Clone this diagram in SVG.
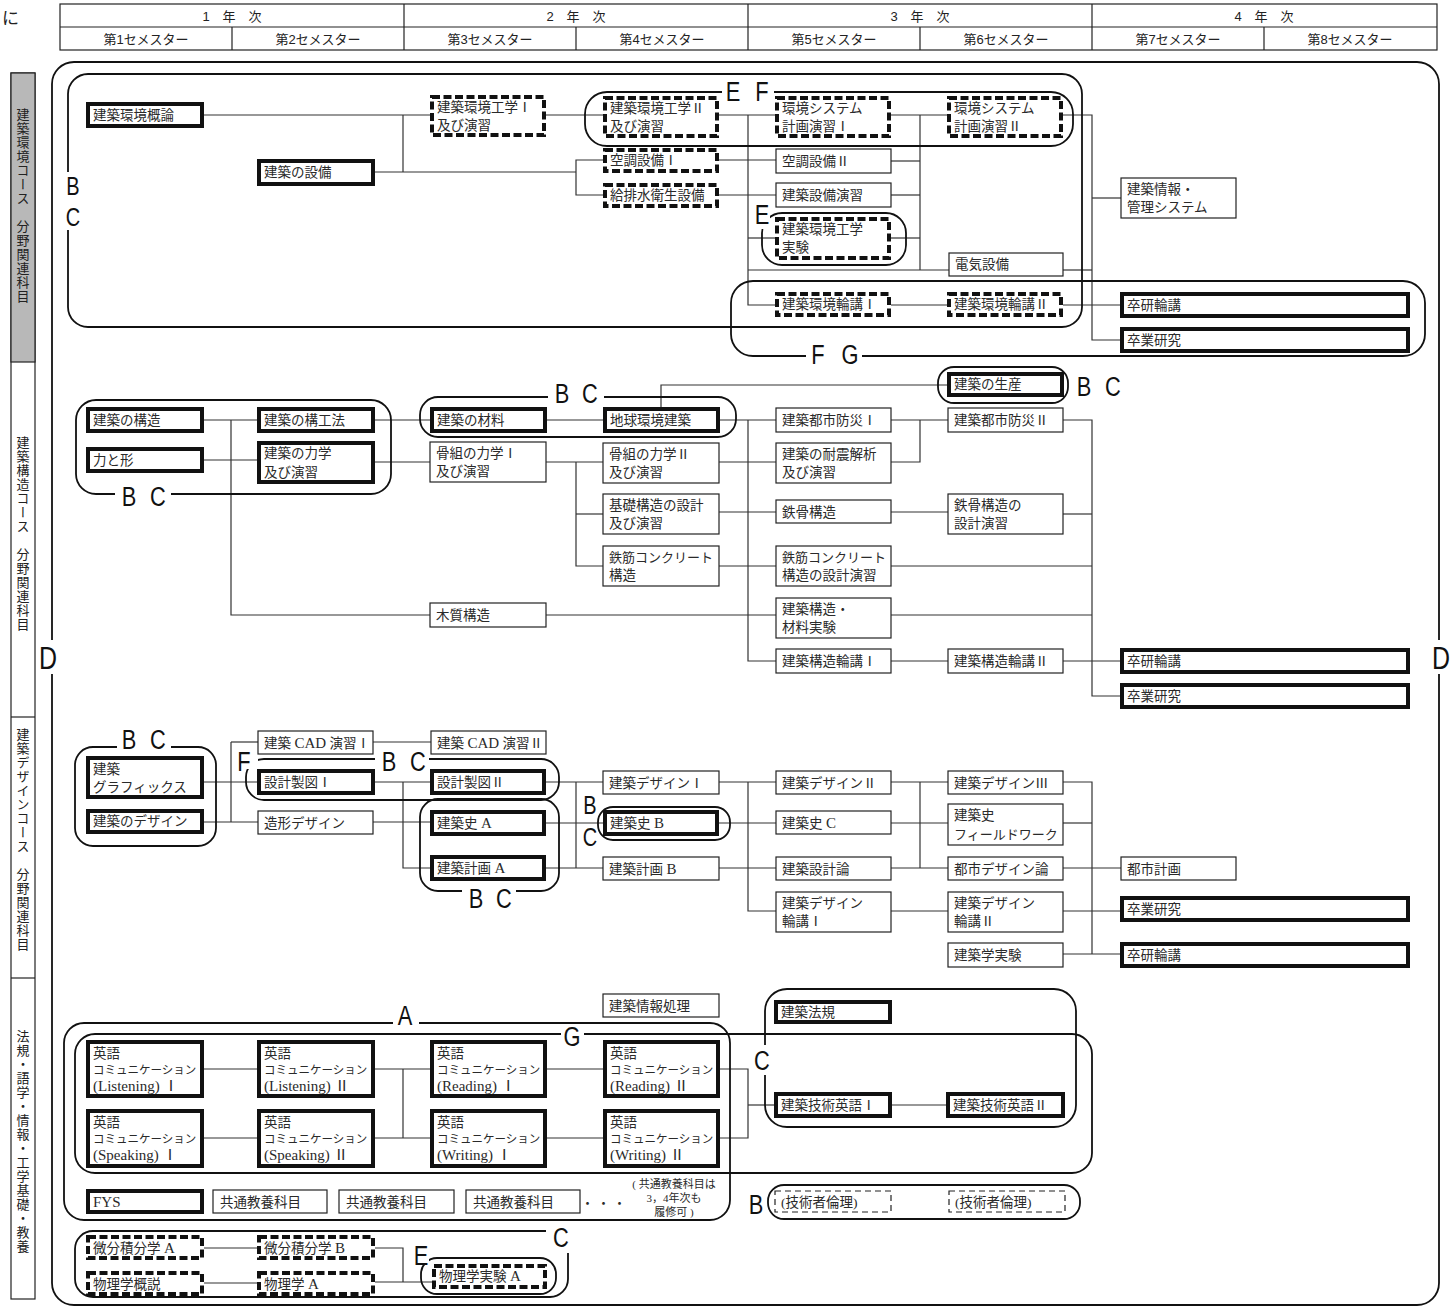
<svg xmlns="http://www.w3.org/2000/svg" width="1450" height="1311" viewBox="0 0 1450 1311">
<style>
.t{font-family:"Liberation Serif","Noto Sans CJK JP",serif;font-size:13.5px;fill:#2a2a2a}
.s{font-size:11.5px}
.r{font-size:13px}
.L{font-size:15px}
.h{font-family:"Liberation Sans","Noto Sans CJK JP",sans-serif;font-size:13px;fill:#222;text-anchor:middle}
.v{font-family:"Noto Sans CJK JP",sans-serif;font-size:13px;fill:#222;writing-mode:vertical-rl;letter-spacing:1px}
.lb{font-family:"Liberation Sans","DejaVu Sans",sans-serif;font-size:28px;fill:#111;text-anchor:middle}
.sm{font-size:25px}
.b{fill:#fff;stroke:#222;stroke-width:1.2}
.k{fill:#fff;stroke:#111;stroke-width:4}
.kd{fill:#fff;stroke:#111;stroke-width:4;stroke-dasharray:8 3.5}
.dd{fill:#fff;stroke:#222;stroke-width:1.2;stroke-dasharray:6 4}
.g{fill:none;stroke:#111;stroke-width:1.8}
.gap{fill:#fff}
.c path{fill:none;stroke:#333;stroke-width:1.2}
.ln{stroke:#222;stroke-width:1.2}
</style>

<!-- header -->
<g id="header">
<text x="2" y="24" style="font-family:'Noto Sans CJK JP',sans-serif;font-size:17px;fill:#222">に</text>
<rect x="60" y="4" width="1377" height="46" fill="#fff" stroke="#222" stroke-width="1.2"/>
<line class="ln" x1="60" y1="27" x2="1437" y2="27"/>
<line class="ln" x1="404" y1="4" x2="404" y2="50"/>
<line class="ln" x1="748" y1="4" x2="748" y2="50"/>
<line class="ln" x1="1092" y1="4" x2="1092" y2="50"/>
<line class="ln" x1="232" y1="27" x2="232" y2="50"/>
<line class="ln" x1="576" y1="27" x2="576" y2="50"/>
<line class="ln" x1="920" y1="27" x2="920" y2="50"/>
<line class="ln" x1="1264" y1="27" x2="1264" y2="50"/>
<text class="h" x="232" y="21">1　年　次</text>
<text class="h" x="576" y="21">2　年　次</text>
<text class="h" x="920" y="21">3　年　次</text>
<text class="h" x="1264" y="21">4　年　次</text>
<text class="h" x="146" y="44">第1セメスター</text>
<text class="h" x="318" y="44">第2セメスター</text>
<text class="h" x="490" y="44">第3セメスター</text>
<text class="h" x="662" y="44">第4セメスター</text>
<text class="h" x="834" y="44">第5セメスター</text>
<text class="h" x="1006" y="44">第6セメスター</text>
<text class="h" x="1178" y="44">第7セメスター</text>
<text class="h" x="1350" y="44">第8セメスター</text>
</g>

<!-- sidebar -->
<g id="sidebar">
<rect x="11" y="73" width="24" height="1226" fill="#fff" stroke="#222" stroke-width="1.2"/>
<rect x="11" y="73" width="24" height="289" fill="#b8b8b8" stroke="#222" stroke-width="1.2"/>
<line class="ln" x1="11" y1="717" x2="35" y2="717"/>
<line class="ln" x1="11" y1="978" x2="35" y2="978"/>
<text class="v" x="23" y="108">建築環境コース　分野関連科目</text>
<text class="v" x="23" y="436">建築構造コース　分野関連科目</text>
<text class="v" x="23" y="728">建築デザインコース　分野関連科目</text>
<text class="v" x="23" y="1030">法規・語学・情報・工学基礎・教養</text>
</g>

<!-- connectors -->
<g id="connectors" class="c">
<path d="M204,115H430"/>
<path d="M403,115V172"/>
<path d="M375,172H576"/>
<path d="M603,160H576V195H603"/>
<path d="M546,115H603"/>
<path d="M719,115H775"/>
<path d="M748,115V305H775"/>
<path d="M748,238H775"/>
<path d="M748,270H949"/>
<path d="M719,160H776"/>
<path d="M719,195H776"/>
<path d="M891,115H947"/>
<path d="M920,115V270"/>
<path d="M891,161H920"/>
<path d="M891,195H920"/>
<path d="M891,238H920"/>
<path d="M891,305H947"/>
<path d="M1063,305H1120"/>
<path d="M1063,115H1092V340H1120"/>
<path d="M1092,198H1121"/>
<path d="M1063,270H1092"/>

<path d="M204,420H257"/>
<path d="M231,420V615H430"/>
<path d="M204,460H257"/>
<path d="M375,420H430"/>
<path d="M547,420H603"/>
<path d="M661,407V385H947"/>
<path d="M720,420H776"/>
<path d="M748,420V661H776"/>
<path d="M375,462H430"/>
<path d="M546,462H603"/>
<path d="M576,462V566H603"/>
<path d="M576,514H603"/>
<path d="M719,462H776"/>
<path d="M719,512H776"/>
<path d="M719,566H776"/>
<path d="M546,615H776"/>
<path d="M891,615H1092"/>
<path d="M891,420H948"/>
<path d="M920,420V462H891"/>
<path d="M891,512H948"/>
<path d="M891,661H948"/>
<path d="M1063,420H1092V696H1120"/>
<path d="M1063,514H1092"/>
<path d="M891,566H1092"/>
<path d="M1063,661H1120"/>

<path d="M204,782H257"/>
<path d="M231,742V822"/>
<path d="M231,742H258"/>
<path d="M204,822H258"/>
<path d="M373,742H431"/>
<path d="M375,782H430"/>
<path d="M403,782V868H430"/>
<path d="M373,822H430"/>
<path d="M546,782H603"/>
<path d="M576,782V868"/>
<path d="M546,823H603"/>
<path d="M546,868H603"/>
<path d="M719,782H776"/>
<path d="M748,782V911H776"/>
<path d="M719,823H776"/>
<path d="M719,868H776"/>
<path d="M891,782H948"/>
<path d="M920,782V868"/>
<path d="M891,823H948"/>
<path d="M891,868H948"/>
<path d="M891,911H948"/>
<path d="M1063,782H1092V954"/>
<path d="M1063,823H1092"/>
<path d="M1063,868H1121"/>
<path d="M1063,911H1120"/>
<path d="M1063,954H1120"/>

<path d="M204,1069H257"/>
<path d="M375,1069H430"/>
<path d="M403,1069V1138"/>
<path d="M547,1069H603"/>
<path d="M204,1138H257"/>
<path d="M375,1138H430"/>
<path d="M547,1138H603"/>
<path d="M720,1069H748V1138H720"/>
<path d="M748,1105H774"/>
<path d="M892,1105H946"/>
<path d="M204,1248H257"/>
<path d="M204,1283H257"/>
<path d="M375,1248H403V1282"/>
<path d="M375,1282H432"/>
</g>

<!-- enclosing groups -->
<g id="groups">
<rect class="g" x="52" y="62" width="1387" height="1243" rx="22"/>
<rect class="g" x="68" y="74" width="1014" height="253" rx="20"/>
<rect class="g" x="585" y="92" width="488" height="54" rx="22"/>
<rect class="g" x="762" y="213" width="144" height="52" rx="20"/>
<rect class="g" x="731" y="281" width="694" height="75" rx="22"/>
<rect class="g" x="76" y="400" width="315" height="94" rx="20"/>
<rect class="g" x="420" y="397" width="316" height="40" rx="18"/>
<rect class="g" x="938" y="367" width="130" height="36" rx="16"/>
<rect class="g" x="75" y="747" width="141" height="99" rx="18"/>
<rect class="g" x="246" y="759" width="313" height="41" rx="18"/>
<rect class="g" x="420" y="799" width="139" height="92" rx="18"/>
<rect class="g" x="598" y="807" width="132" height="33" rx="15"/>
<rect class="g" x="64" y="1023" width="666" height="197" rx="20"/>
<rect class="g" x="75" y="1034" width="1017" height="139" rx="20"/>
<rect class="g" x="765" y="989" width="311" height="138" rx="22"/>
<rect class="g" x="768" y="1185" width="312" height="34" rx="16"/>
<rect class="g" x="75" y="1231" width="493" height="66" rx="18"/>
<rect class="g" x="421" y="1258" width="135" height="36" rx="16"/>
<rect class="gap" x="40" y="640" width="20" height="34"/>
<rect class="gap" x="1431" y="640" width="19" height="34"/>
<rect class="gap" x="62" y="172" width="22" height="58"/>
<rect class="gap" x="722" y="86" width="52" height="12"/>
<rect class="gap" x="754" y="209" width="16" height="20"/>
<rect class="gap" x="806" y="350" width="56" height="12"/>
<rect class="gap" x="115" y="489" width="56" height="12"/>
<rect class="gap" x="548" y="391" width="56" height="12"/>
<rect class="gap" x="117" y="737" width="54" height="16"/>
<rect class="gap" x="236" y="749" width="22" height="20"/>
<rect class="gap" x="375" y="749" width="54" height="20"/>
<rect class="gap" x="462" y="885" width="54" height="12"/>
<rect class="gap" x="393" y="1016" width="26" height="12"/>
<rect class="gap" x="561" y="1028" width="23" height="12"/>
<rect class="gap" x="755" y="1045" width="16" height="30"/>
<rect class="gap" x="546" y="1225" width="28" height="28"/>
<rect class="gap" x="413" y="1245" width="16" height="20"/>
</g>

<!-- environment nodes -->
<g id="e1"><rect class="k" x="88" y="104" width="114" height="22"/><text class="t" x="93" y="120">建築環境概論</text></g>
<g id="e2"><rect class="k" x="259" y="161" width="114" height="23"/><text class="t" x="264" y="177">建築の設備</text></g>
<g id="e3"><rect class="kd" x="432" y="97" width="112" height="38"/><text class="t" x="437" y="112">建築環境工学Ⅰ</text><text class="t" x="437" y="130">及び演習</text></g>
<g id="e4"><rect class="kd" x="605" y="98" width="112" height="38"/><text class="t" x="610" y="113">建築環境工学Ⅱ</text><text class="t" x="610" y="131">及び演習</text></g>
<g id="e5"><rect class="kd" x="605" y="150" width="112" height="21"/><text class="t" x="610" y="165">空調設備Ⅰ</text></g>
<g id="e6"><rect class="kd" x="605" y="185" width="112" height="21"/><text class="t" x="610" y="200">給排水衛生設備</text></g>
<g id="e7"><rect class="kd" x="777" y="98" width="112" height="38"/><text class="t" x="782" y="113">環境システム</text><text class="t" x="782" y="131">計画演習Ⅰ</text></g>
<g id="e8"><rect class="kd" x="949" y="98" width="112" height="38"/><text class="t" x="954" y="113">環境システム</text><text class="t" x="954" y="131">計画演習Ⅱ</text></g>
<g id="e9"><rect class="b" x="776" y="149" width="115" height="24"/><text class="t" x="782" y="166">空調設備Ⅱ</text></g>
<g id="e10"><rect class="b" x="776" y="183" width="115" height="24"/><text class="t" x="782" y="200">建築設備演習</text></g>
<g id="e11"><rect class="kd" x="777" y="219" width="112" height="39"/><text class="t" x="782" y="234">建築環境工学</text><text class="t" x="782" y="252">実験</text></g>
<g id="e12"><rect class="b" x="949" y="253" width="114" height="23"/><text class="t" x="955" y="269">電気設備</text></g>
<g id="e13"><rect class="kd" x="777" y="294" width="112" height="21"/><text class="t" x="782" y="309">建築環境輪講Ⅰ</text></g>
<g id="e14"><rect class="kd" x="949" y="294" width="112" height="21"/><text class="t" x="954" y="309">建築環境輪講Ⅱ</text></g>
<g id="e15"><rect class="b" x="1121" y="178" width="115" height="40"/><text class="t" x="1127" y="194">建築情報・</text><text class="t" x="1127" y="212">管理システム</text></g>
<g id="e16"><rect class="k" x="1122" y="294" width="286" height="22"/><text class="t" x="1127" y="310">卒研輪講</text></g>
<g id="e17"><rect class="k" x="1122" y="329" width="286" height="22"/><text class="t" x="1127" y="345">卒業研究</text></g>

<!-- structure nodes -->
<g id="s1"><rect class="k" x="88" y="409" width="114" height="22"/><text class="t" x="93" y="425">建築の構造</text></g>
<g id="s2"><rect class="k" x="88" y="449" width="114" height="22"/><text class="t" x="93" y="465">力と形</text></g>
<g id="s3"><rect class="k" x="259" y="409" width="114" height="22"/><text class="t" x="264" y="425">建築の構工法</text></g>
<g id="s4"><rect class="k" x="259" y="443" width="114" height="39"/><text class="t" x="264" y="458">建築の力学</text><text class="t" x="264" y="477">及び演習</text></g>
<g id="s5"><rect class="k" x="432" y="409" width="113" height="22"/><text class="t" x="437" y="425">建築の材料</text></g>
<g id="s6"><rect class="k" x="605" y="409" width="113" height="22"/><text class="t" x="610" y="425">地球環境建築</text></g>
<g id="s7"><rect class="k" x="949" y="374" width="113" height="21"/><text class="t" x="954" y="389">建築の生産</text></g>
<g id="s8"><rect class="b" x="776" y="408" width="115" height="24"/><text class="t" x="782" y="425">建築都市防災Ⅰ</text></g>
<g id="s9"><rect class="b" x="948" y="408" width="115" height="24"/><text class="t" x="954" y="425">建築都市防災Ⅱ</text></g>
<g id="s10"><rect class="b" x="430" y="442" width="116" height="40"/><text class="t" x="436" y="458">骨組の力学Ⅰ</text><text class="t" x="436" y="476">及び演習</text></g>
<g id="s11"><rect class="b" x="603" y="443" width="116" height="40"/><text class="t" x="609" y="459">骨組の力学Ⅱ</text><text class="t" x="609" y="477">及び演習</text></g>
<g id="s12"><rect class="b" x="776" y="443" width="115" height="40"/><text class="t" x="782" y="459">建築の耐震解析</text><text class="t" x="782" y="477">及び演習</text></g>
<g id="s13"><rect class="b" x="603" y="494" width="116" height="40"/><text class="t" x="609" y="510">基礎構造の設計</text><text class="t" x="609" y="528">及び演習</text></g>
<g id="s14"><rect class="b" x="776" y="500" width="115" height="23"/><text class="t" x="782" y="517">鉄骨構造</text></g>
<g id="s15"><rect class="b" x="948" y="494" width="115" height="40"/><text class="t" x="954" y="510">鉄骨構造の</text><text class="t" x="954" y="528">設計演習</text></g>
<g id="s16"><rect class="b" x="603" y="546" width="116" height="40"/><text class="t r" x="609" y="562">鉄筋コンクリート</text><text class="t" x="609" y="580">構造</text></g>
<g id="s17"><rect class="b" x="776" y="546" width="115" height="40"/><text class="t r" x="782" y="562">鉄筋コンクリート</text><text class="t" x="782" y="580">構造の設計演習</text></g>
<g id="s18"><rect class="b" x="430" y="603" width="116" height="24"/><text class="t" x="436" y="620">木質構造</text></g>
<g id="s19"><rect class="b" x="776" y="598" width="115" height="40"/><text class="t" x="782" y="614">建築構造・</text><text class="t" x="782" y="632">材料実験</text></g>
<g id="s20"><rect class="b" x="776" y="649" width="115" height="24"/><text class="t" x="782" y="666">建築構造輪講Ⅰ</text></g>
<g id="s21"><rect class="b" x="948" y="649" width="115" height="24"/><text class="t" x="954" y="666">建築構造輪講Ⅱ</text></g>
<g id="s22"><rect class="k" x="1122" y="650" width="286" height="22"/><text class="t" x="1127" y="666">卒研輪講</text></g>
<g id="s23"><rect class="k" x="1122" y="685" width="286" height="22"/><text class="t" x="1127" y="701">卒業研究</text></g>

<!-- design nodes -->
<g id="d1"><rect class="k" x="88" y="758" width="114" height="39"/><text class="t" x="93" y="774">建築</text><text class="t" x="93" y="792">グラフィックス</text></g>
<g id="d2"><rect class="k" x="88" y="811" width="114" height="21"/><text class="t" x="93" y="826">建築のデザイン</text></g>
<g id="d3"><rect class="b" x="258" y="731" width="115" height="23"/><text class="t" x="264" y="748">建築 <tspan class="L">CAD</tspan> 演習Ⅰ</text></g>
<g id="d4"><rect class="b" x="431" y="731" width="115" height="23"/><text class="t" x="437" y="748">建築 <tspan class="L">CAD</tspan> 演習Ⅱ</text></g>
<g id="d5"><rect class="k" x="259" y="771" width="114" height="22"/><text class="t" x="264" y="787">設計製図Ⅰ</text></g>
<g id="d6"><rect class="k" x="432" y="771" width="112" height="22"/><text class="t" x="437" y="787">設計製図Ⅱ</text></g>
<g id="d7"><rect class="b" x="258" y="811" width="115" height="23"/><text class="t" x="264" y="828">造形デザイン</text></g>
<g id="d8"><rect class="k" x="432" y="812" width="112" height="22"/><text class="t" x="437" y="828">建築史 <tspan class="L">A</tspan></text></g>
<g id="d9"><rect class="k" x="432" y="857" width="112" height="22"/><text class="t" x="437" y="873">建築計画 <tspan class="L">A</tspan></text></g>
<g id="d10"><rect class="b" x="603" y="771" width="116" height="23"/><text class="t" x="609" y="788">建築デザインⅠ</text></g>
<g id="d11"><rect class="k" x="605" y="812" width="112" height="22"/><text class="t" x="610" y="828">建築史 <tspan class="L">B</tspan></text></g>
<g id="d12"><rect class="b" x="603" y="857" width="116" height="23"/><text class="t" x="609" y="874">建築計画 <tspan class="L">B</tspan></text></g>
<g id="d13"><rect class="b" x="776" y="771" width="115" height="23"/><text class="t" x="782" y="788">建築デザインⅡ</text></g>
<g id="d14"><rect class="b" x="776" y="811" width="115" height="23"/><text class="t" x="782" y="828">建築史 <tspan class="L">C</tspan></text></g>
<g id="d15"><rect class="b" x="776" y="857" width="115" height="23"/><text class="t" x="782" y="874">建築設計論</text></g>
<g id="d16"><rect class="b" x="776" y="892" width="115" height="40"/><text class="t" x="782" y="908">建築デザイン</text><text class="t" x="782" y="926">輪講Ⅰ</text></g>
<g id="d17"><rect class="b" x="948" y="771" width="115" height="23"/><text class="t" x="954" y="788">建築デザインⅢ</text></g>
<g id="d18"><rect class="b" x="948" y="804" width="115" height="41"/><text class="t" x="954" y="820">建築史</text><text class="t r" x="954" y="839">フィールドワーク</text></g>
<g id="d19"><rect class="b" x="948" y="857" width="115" height="23"/><text class="t" x="954" y="874">都市デザイン論</text></g>
<g id="d20"><rect class="b" x="948" y="892" width="115" height="40"/><text class="t" x="954" y="908">建築デザイン</text><text class="t" x="954" y="926">輪講Ⅱ</text></g>
<g id="d21"><rect class="b" x="948" y="943" width="115" height="24"/><text class="t" x="954" y="960">建築学実験</text></g>
<g id="d22"><rect class="b" x="1121" y="857" width="115" height="23"/><text class="t" x="1127" y="874">都市計画</text></g>
<g id="d23"><rect class="k" x="1122" y="898" width="286" height="22"/><text class="t" x="1127" y="914">卒業研究</text></g>
<g id="d24"><rect class="k" x="1122" y="944" width="286" height="22"/><text class="t" x="1127" y="960">卒研輪講</text></g>

<!-- bottom nodes -->
<g id="b0"><rect class="b" x="603" y="994" width="116" height="23"/><text class="t" x="609" y="1011">建築情報処理</text></g>
<g id="b1"><rect class="k" x="88" y="1042" width="114" height="54"/><text class="t" x="93" y="1058">英語</text><text class="t s" x="93" y="1074">コミュニケーション</text><text class="t L" x="93" y="1091">(Listening) Ⅰ</text></g>
<g id="b2"><rect class="k" x="259" y="1042" width="114" height="54"/><text class="t" x="264" y="1058">英語</text><text class="t s" x="264" y="1074">コミュニケーション</text><text class="t L" x="264" y="1091">(Listening) Ⅱ</text></g>
<g id="b3"><rect class="k" x="432" y="1042" width="113" height="54"/><text class="t" x="437" y="1058">英語</text><text class="t s" x="437" y="1074">コミュニケーション</text><text class="t L" x="437" y="1091">(Reading) Ⅰ</text></g>
<g id="b4"><rect class="k" x="605" y="1042" width="113" height="54"/><text class="t" x="610" y="1058">英語</text><text class="t s" x="610" y="1074">コミュニケーション</text><text class="t L" x="610" y="1091">(Reading) Ⅱ</text></g>
<g id="b5"><rect class="k" x="88" y="1111" width="114" height="55"/><text class="t" x="93" y="1127">英語</text><text class="t s" x="93" y="1143">コミュニケーション</text><text class="t L" x="93" y="1160">(Speaking) Ⅰ</text></g>
<g id="b6"><rect class="k" x="259" y="1111" width="114" height="55"/><text class="t" x="264" y="1127">英語</text><text class="t s" x="264" y="1143">コミュニケーション</text><text class="t L" x="264" y="1160">(Speaking) Ⅱ</text></g>
<g id="b7"><rect class="k" x="432" y="1111" width="113" height="55"/><text class="t" x="437" y="1127">英語</text><text class="t s" x="437" y="1143">コミュニケーション</text><text class="t L" x="437" y="1160">(Writing) Ⅰ</text></g>
<g id="b8"><rect class="k" x="605" y="1111" width="113" height="55"/><text class="t" x="610" y="1127">英語</text><text class="t s" x="610" y="1143">コミュニケーション</text><text class="t L" x="610" y="1160">(Writing) Ⅱ</text></g>
<g id="b9"><rect class="k" x="776" y="1002" width="114" height="20"/><text class="t" x="781" y="1017">建築法規</text></g>
<g id="b10"><rect class="k" x="776" y="1094" width="114" height="22"/><text class="t" x="781" y="1110">建築技術英語Ⅰ</text></g>
<g id="b11"><rect class="k" x="948" y="1094" width="115" height="22"/><text class="t" x="953" y="1110">建築技術英語Ⅱ</text></g>
<g id="b12"><rect class="k" x="88" y="1191" width="114" height="21"/><text class="t L" x="93" y="1207">FYS</text></g>
<g id="b13"><rect class="b" x="213" y="1190" width="114" height="23"/><text class="t" x="220" y="1207">共通教養科目</text></g>
<g id="b14"><rect class="b" x="339" y="1190" width="115" height="23"/><text class="t" x="346" y="1207">共通教養科目</text></g>
<g id="b15"><rect class="b" x="466" y="1190" width="114" height="23"/><text class="t" x="473" y="1207">共通教養科目</text></g>
<g id="b16"><rect class="dd" x="775" y="1191" width="116" height="21"/><text class="t" x="781" y="1207">(技術者倫理)</text></g>
<g id="b17"><rect class="dd" x="949" y="1191" width="116" height="21"/><text class="t" x="955" y="1207">(技術者倫理)</text></g>
<g id="b18"><rect class="kd" x="88" y="1237" width="114" height="21"/><text class="t" x="93" y="1253">微分積分学 <tspan class="L">A</tspan></text></g>
<g id="b19"><rect class="kd" x="259" y="1237" width="114" height="21"/><text class="t" x="264" y="1253">微分積分学 <tspan class="L">B</tspan></text></g>
<g id="b20"><rect class="kd" x="88" y="1273" width="114" height="21"/><text class="t" x="93" y="1289">物理学概説</text></g>
<g id="b21"><rect class="kd" x="259" y="1273" width="114" height="21"/><text class="t" x="264" y="1289">物理学 <tspan class="L">A</tspan></text></g>
<g id="b22"><rect class="kd" x="434" y="1266" width="111" height="21"/><text class="t" x="439" y="1281">物理学実験 <tspan class="L">A</tspan></text></g>
<g id="note">
<text class="t" x="605" y="1208" style="font-size:13px;text-anchor:middle;letter-spacing:3px">・・・</text>
<text class="t" x="674" y="1188" style="font-size:11px;text-anchor:middle">( 共通教養科目は</text>
<text class="t" x="674" y="1202" style="font-size:11px;text-anchor:middle">3，4年次も</text>
<text class="t" x="674" y="1216" style="font-size:11px;text-anchor:middle">履修可 )</text>
</g>

<!-- group labels -->
<g id="labels">
<text class="lb" transform="translate(48,669) scale(0.78,1)" style="font-size:32px">D</text>
<text class="lb" transform="translate(1441,669) scale(0.78,1)" style="font-size:32px">D</text>
<text class="lb sm" transform="translate(73,195) scale(0.8,1)">B</text>
<text class="lb sm" transform="translate(73,226) scale(0.8,1)">C</text>
<text class="lb" transform="translate(733,101) scale(0.78,1)">E</text>
<text class="lb" transform="translate(762,101) scale(0.78,1)">F</text>
<text class="lb" transform="translate(762,224) scale(0.78,1)">E</text>
<text class="lb" transform="translate(818,364) scale(0.78,1)">F</text>
<text class="lb" transform="translate(850,364) scale(0.78,1)">G</text>
<text class="lb" transform="translate(129,506) scale(0.78,1)">B</text>
<text class="lb" transform="translate(158,506) scale(0.78,1)">C</text>
<text class="lb" transform="translate(562,403) scale(0.78,1)">B</text>
<text class="lb" transform="translate(590,403) scale(0.78,1)">C</text>
<text class="lb" transform="translate(1084,396) scale(0.78,1)">B</text>
<text class="lb" transform="translate(1113,396) scale(0.78,1)">C</text>
<text class="lb" transform="translate(129,749) scale(0.78,1)">B</text>
<text class="lb" transform="translate(158,749) scale(0.78,1)">C</text>
<text class="lb" transform="translate(244,771) scale(0.78,1)">F</text>
<text class="lb" transform="translate(389,771) scale(0.78,1)">B</text>
<text class="lb" transform="translate(418,771) scale(0.78,1)">C</text>
<text class="lb" transform="translate(476,908) scale(0.78,1)">B</text>
<text class="lb" transform="translate(504,908) scale(0.78,1)">C</text>
<text class="lb sm" transform="translate(590,814) scale(0.8,1)">B</text>
<text class="lb sm" transform="translate(590,846) scale(0.8,1)">C</text>
<text class="lb" transform="translate(405,1025) scale(0.78,1)">A</text>
<text class="lb" transform="translate(572,1046) scale(0.78,1)">G</text>
<text class="lb" transform="translate(762,1070) scale(0.78,1)">C</text>
<text class="lb" transform="translate(756,1214) scale(0.78,1)">B</text>
<text class="lb" transform="translate(561,1247) scale(0.78,1)">C</text>
<text class="lb" transform="translate(421,1265) scale(0.78,1)">E</text>
</g>
</svg>
